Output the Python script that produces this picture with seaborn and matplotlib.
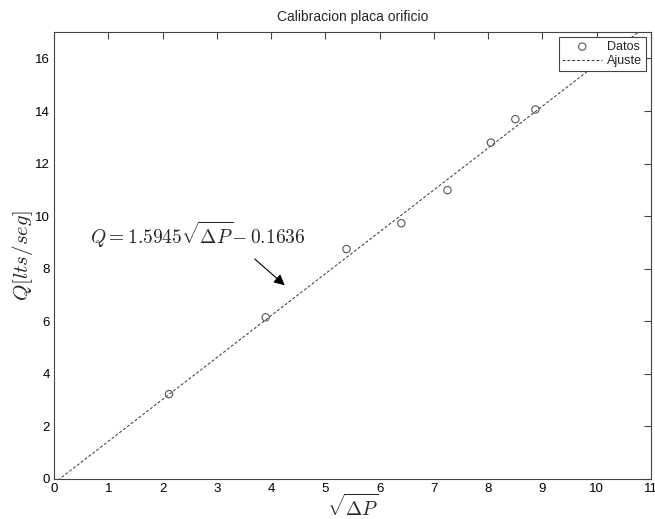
import numpy as np
import pandas as pd
import matplotlib
matplotlib.use("Agg")
import matplotlib.pyplot as plt
import seaborn as sns

# Measured flow vs. square root of pressure drop
sqrt_dp = [2.12, 3.90, 5.39, 6.40, 7.25, 8.05, 8.50, 8.87]
caudal = [3.23, 6.15, 8.75, 9.73, 10.99, 12.80, 13.69, 14.06]

# Linear fit coefficients
pendiente = 1.5945
ordenada = -0.1636

x_ticks = list(range(0, 12))
y_ticks = list(range(0, 17, 2))

sns.set_theme(style="white")
plt.rcParams["font.family"] = ["Liberation Sans", "DejaVu Sans"]
plt.rcParams["mathtext.fontset"] = "cm"

fig = plt.figure(figsize=(6.55, 5.19), dpi=100)
ax = fig.add_axes([0.0824, 0.0771, 0.9115, 0.8609])

datos = pd.DataFrame({"x": sqrt_dp, "y": caudal})
x_fit = np.linspace(0, 11, 200)
ajuste = pd.DataFrame({"x": x_fit, "y": pendiente * x_fit + ordenada})

sns.lineplot(data=ajuste, x="x", y="y", ax=ax, color="#333333",
             linewidth=0.7, linestyle=(0, (3, 2)), label="Ajuste", zorder=2)
sns.scatterplot(data=datos, x="x", y="y", ax=ax, marker="o", s=28,
                facecolor="none", edgecolor="#555555", linewidth=0.8,
                label="Datos", zorder=3)

ax.set_xlim(0, 11)
ax.set_ylim(0, 17)
ax.set_xticks(x_ticks)
ax.set_yticks(y_ticks)
ax.tick_params(direction="in", length=5, width=0.8, color="#444444",
               labelsize=9.5, top=True, right=True, labelcolor="black", pad=3)
for s in ax.spines.values():
    s.set_color("#444444")
    s.set_linewidth(0.8)

ax.set_title("Calibracion placa orificio", fontsize=10, pad=8)
ax.set_xlabel(r"$\sqrt{\Delta P}$", fontsize=14, labelpad=-1)
ax.set_ylabel(r"$Q[lts/seg]$", fontsize=15, labelpad=0)

handles, labels = ax.get_legend_handles_labels()
order = [labels.index("Datos"), labels.index("Ajuste")]
leg = ax.legend([handles[i] for i in order], [labels[i] for i in order],
                loc="upper right", fontsize=9, frameon=True, fancybox=False,
                edgecolor="#444444", framealpha=1, borderpad=0.3,
                handlelength=3.2, handletextpad=0.4, labelspacing=0.2,
                borderaxespad=0.4, markerfirst=True)
leg.get_frame().set_linewidth(0.8)

ax.annotate("", xy=(4.29, 7.30), xytext=(3.66, 8.44),
            arrowprops=dict(arrowstyle="-|>", color="black", lw=0.8,
                            mutation_scale=16))
ax.text(0.66, 9.28, r"$Q = 1.5945\sqrt{\Delta P}\!- 0.1636$", fontsize=14,
        va="center", ha="left")

fig.savefig("out.png", dpi=100)
